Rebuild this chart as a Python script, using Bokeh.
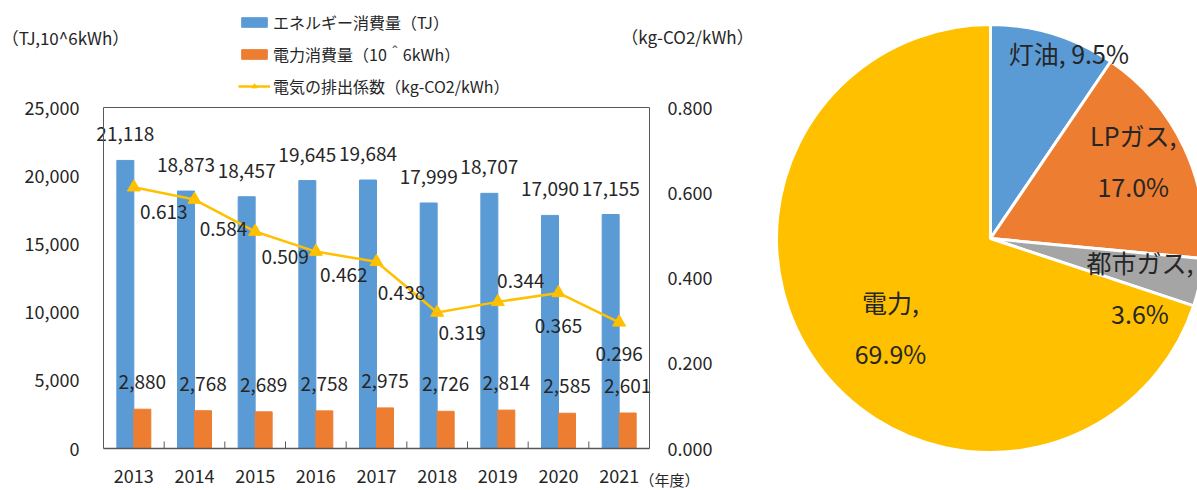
import math
from bokeh.plotting import figure
from bokeh.models import (Range1d, LinearAxis, FixedTicker, NumeralTickFormatter,
                          Label, Legend, LegendItem, ColumnDataSource)
from bokeh.transform import dodge
from bokeh.core.properties import value
from bokeh.embed import file_html
from bokeh.resources import INLINE

# ---------------- data ----------------
years = ["2013", "2014", "2015", "2016", "2017", "2018", "2019", "2020", "2021"]
energy_tj = [21118, 18873, 18457, 19645, 19684, 17999, 18707, 17090, 17155]
power_mkwh = [2880, 2768, 2689, 2758, 2975, 2726, 2814, 2585, 2601]
emission = [0.613, 0.584, 0.509, 0.462, 0.438, 0.319, 0.344, 0.365, 0.296]
left_ticks = [0, 5000, 10000, 15000, 20000, 25000]
right_ticks = [0.0, 0.2, 0.4, 0.6, 0.8]

pie_names = ["灯油", "LPガス", "都市ガス", "電力"]
pie_pct = [9.5, 17.0, 3.6, 69.9]

# ---------------- styles ----------------
FONT = "Noto Sans CJK JP"
TXT = "#262626"
AX = "#595959"
BLUE = "#5B9BD5"
ORANGE = "#ED7D31"
GRAY = "#A5A5A5"
YELLOW = "#FFC000"

emis_dx = [30, 29, 30, 28, 25, 25, 23, 0, 0]
emis_dy = [25, 29, 25, 23, 31, 20, -21, 33, 32]

# canvas / plot-area geometry (px)
W, H = 1197, 490
FL, FT, FW, FH = 103, 107, 546, 341
FB = FT + FH
LEFT_MAX = 25000
RIGHT_MAX = 0.8
N = len(years)
ux = N / FW
uy = LEFT_MAX / FH
ur = RIGHT_MAX / FH

def X(px):
    return (px - FL) * ux - 0.5

def Y(py):
    return (FB - py) * uy

p = figure(width=W, height=H,
           x_range=Range1d(X(0), X(W)),
           y_range=Range1d(Y(H), Y(0)),
           x_axis_location=None, y_axis_location=None,
           output_backend="svg", toolbar_location=None, min_border=0)
p.xgrid.visible = False
p.ygrid.visible = False
p.outline_line_color = None
p.background_fill_color = "white"
p.border_fill_color = "white"
p.extra_y_ranges = {"r": Range1d(-(H - FB) * ur, RIGHT_MAX + FT * ur)}

xc = list(range(N))
x_lo, x_hi = -0.5, N - 0.5

tick_style = dict(major_tick_out=0, major_tick_in=0, minor_tick_line_color=None,
                  major_tick_line_color=None,
                  major_label_text_font=FONT, major_label_text_font_size="18px",
                  major_label_text_color=TXT)

lax = LinearAxis(fixed_location=x_lo, bounds=(0, LEFT_MAX),
                 ticker=FixedTicker(ticks=left_ticks),
                 formatter=NumeralTickFormatter(format="0,0"),
                 axis_line_color=AX, axis_line_width=1, major_label_standoff=24, **tick_style)
p.add_layout(lax, "left")

rax = LinearAxis(y_range_name="r", fixed_location=x_hi, bounds=(0, RIGHT_MAX),
                 ticker=FixedTicker(ticks=right_ticks),
                 formatter=NumeralTickFormatter(format="0.000"),
                 axis_line_color=AX, axis_line_width=1, major_label_standoff=18, **tick_style)
p.add_layout(rax, "right")

bax = LinearAxis(fixed_location=0, bounds=(x_lo, x_hi),
                 ticker=FixedTicker(ticks=xc),
                 major_label_overrides={i: y for i, y in enumerate(years)},
                 axis_line_color=AX, axis_line_width=1.5, major_label_standoff=20, **tick_style)
p.add_layout(bax, "below")

tax = LinearAxis(fixed_location=LEFT_MAX, bounds=(x_lo, x_hi),
                 ticker=FixedTicker(ticks=[]), axis_line_color=AX, axis_line_width=1,
                 **tick_style)
p.add_layout(tax, "above")

# inward tick marks at category boundaries
bx = [i + 0.5 for i in range(N - 1)]
p.segment(x0=bx, y0=[0] * len(bx), x1=bx, y1=[7 * uy] * len(bx),
          line_color=AX, line_width=1)

src = ColumnDataSource(dict(
    xc=xc, year=years, energy=energy_tj, power=power_mkwh, emis=emission,
    energy_lbl=[f"{v:,}" for v in energy_tj],
    power_lbl=[f"{v:,}" for v in power_mkwh],
    emis_lbl=[f"{v:.3f}" for v in emission],
    edx=emis_dx, edy=emis_dy,
))

BW = 0.28
r_e = p.vbar(x=dodge("xc", -BW / 2), top="energy", width=BW,
             source=src, fill_color=BLUE, line_color=BLUE)
r_p = p.vbar(x=dodge("xc", BW / 2), top="power", width=BW,
             source=src, fill_color=ORANGE, line_color=ORANGE)

r_l = p.line(x="xc", y="emis", y_range_name="r", source=src,
             line_color=YELLOW, line_width=2.5)
r_m = p.scatter(x="xc", y="emis", y_range_name="r", source=src, marker="triangle",
                size=13, fill_color=YELLOW, line_color=YELLOW)

common = dict(text_font=value(FONT), text_font_size="19px", text_color=TXT,
              text_align="center", text_baseline="middle")
p.text(x=dodge("xc", -BW / 2), y="energy", text="energy_lbl",
       y_offset=-26, source=src, **common)
p.text(x=dodge("xc", BW / 2), y="power", text="power_lbl",
       y_offset=-27, source=src, **common)
p.text(x="xc", y="emis", y_range_name="r", text="emis_lbl",
       x_offset="edx", y_offset="edy", source=src, **common)

LEG_ROW, LEG_GAP, LEG_TOP = 20, 8, 22
leg_h = 3 * LEG_ROW + 2 * LEG_GAP
legend = Legend(items=[
    LegendItem(label="エネルギー消費量（TJ）", renderers=[r_e]),
    LegendItem(label="電力消費量（10＾6kWh）", renderers=[r_p]),
    LegendItem(label="電気の排出係数（kg-CO2/kWh）", renderers=[r_l, r_m]),
], location=(238, H - LEG_TOP - leg_h), orientation="vertical", padding=0, margin=0,
    spacing=LEG_GAP, glyph_width=32, glyph_height=12, label_height=LEG_ROW, label_standoff=3,
    border_line_color=None, background_fill_alpha=0,
    label_text_font=FONT, label_text_font_size="16px", label_text_color=TXT)
p.add_layout(legend, "center")

lab = dict(text_font=FONT, text_font_size="17px", text_color=TXT,
           text_align="center", text_baseline="middle")
p.add_layout(Label(x=X(65), y=Y(37), text="（TJ,10^6kWh）", **lab))
p.add_layout(Label(x=X(687), y=Y(36), text="（kg-CO2/kWh）", **lab))
p.add_layout(Label(x=X(669), y=Y(479), text="（年度）",
                   text_font=FONT, text_font_size="15px", text_color=TXT,
                   text_align="center", text_baseline="middle"))

# ---------------- pie ----------------
PCX, PCY, PR = 990, 238, 214   # centre / radius in px
total = sum(pie_pct)
starts, ends, mids = [], [], []
cum = 0.0
for v in pie_pct:
    f0 = cum / total
    cum += v
    f1 = cum / total
    starts.append(math.pi / 2 - 2 * math.pi * f0)
    ends.append(math.pi / 2 - 2 * math.pi * f1)
    mids.append(2 * math.pi * (f0 + f1) / 2)

pie_colors = [BLUE, ORANGE, GRAY, YELLOW]
p.wedge(x=X(PCX), y=Y(PCY), radius=PR * ux, start_angle=starts, end_angle=ends,
        direction="clock", fill_color=pie_colors, line_color="white", line_width=3)

lab_shift_deg = [5.8, -3.4, 6.3, -5.9]
lab_rfrac = [0.94, 0.76, 0.735, 0.626]
lab_sep = [" ", "\n", "\n", "\n"]
lx, lyy, lt = [], [], []
for i, name in enumerate(pie_names):
    th = mids[i] + math.radians(lab_shift_deg[i])
    lx.append(X(PCX + PR * lab_rfrac[i] * math.sin(th)))
    lyy.append(Y(PCY - PR * lab_rfrac[i] * math.cos(th)))
    lt.append(f"{name},{lab_sep[i]}{pie_pct[i]:.1f}%")
p.text(x=lx, y=lyy, text=lt, text_font=value(FONT), text_font_size="25px",
       text_color=TXT, text_align="center", text_baseline="middle", text_line_height=1.43)

open("out.html", "w").write(file_html(p, INLINE))
